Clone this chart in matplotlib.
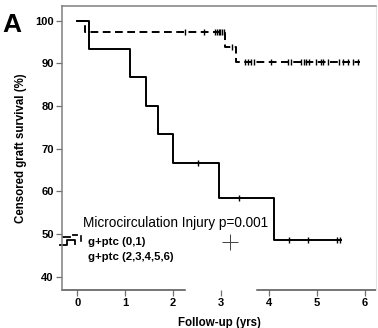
import numpy as np
import matplotlib
matplotlib.use('Agg')
import matplotlib.pyplot as plt

plt.rcParams['font.family'] = ['Liberation Sans', 'DejaVu Sans']

# group g+ptc (2,3,4,5,6) - solid
solid_t = [0, 0.25, 1.09, 1.43, 1.68, 1.99, 2.96, 4.10, 5.50]
solid_s = [100, 93.33, 86.67, 80.0, 73.33, 66.67, 58.33, 48.61, 48.61]
solid_cens = [2.51, 3.38, 4.41, 4.82, 5.41, 5.48]

# group g+ptc (0,1) - dashed
dash_t = [0, 0.17, 3.09, 3.32, 5.90]
dash_s = [100, 97.22, 93.9, 90.3, 90.3]
dash_cens = [2.25, 2.64, 2.87, 2.92, 2.95, 2.98, 3.01, 3.05, 3.23, 3.50, 3.56,
             3.62, 3.68, 4.03, 4.40, 4.45, 4.66, 4.72, 4.78, 4.83, 4.97, 5.08,
             5.12, 5.22, 5.45, 5.54, 5.64, 5.75, 5.85]

xticks = [0, 1, 2, 3, 4, 5, 6]
yticks = [40, 50, 60, 70, 80, 90, 100]
legend_title = 'Microcirculation Injury p=0.001'
labels = ['g+ptc (0,1)', 'g+ptc (2,3,4,5,6)']


def surv_at(times, surv, x):
    idx = np.searchsorted(times, x, side='right') - 1
    return np.array(surv)[idx]


fig = plt.figure(figsize=(3.78, 3.28), dpi=100)
ax = fig.add_axes([62 / 378, 38 / 328, 314 / 378, 284 / 328])

ax.step(dash_t, dash_s, where='post', color='black', lw=1.4, dashes=(4, 2.3))
ax.step(solid_t, solid_s, where='post', color='black', lw=1.4)
ax.plot(dash_cens, surv_at(dash_t, dash_s, dash_cens), ls='none', marker='|',
        color='black', ms=4.5, mew=1.0)
ax.plot(solid_cens, surv_at(solid_t, solid_s, solid_cens), ls='none', marker='|',
        color='black', ms=4.5, mew=1.0)

ax.set_xlim(-0.32, 6.23)
ax.set_ylim(36.9, 103.4)
ax.set_xticks(xticks)
ax.set_yticks(yticks)
ax.tick_params(direction='out', length=4, width=0.9, color='#707070',
               labelsize=8, pad=2)
for lab in ax.get_xticklabels() + ax.get_yticklabels():
    lab.set_fontweight('bold')

for side in ['left', 'top']:
    ax.spines[side].set_color('#808080')
    ax.spines[side].set_linewidth(1.1)
ax.spines['right'].set_color('#e4e4e4')
ax.spines['right'].set_linewidth(0.8)
ax.spines['bottom'].set_visible(False)
# bottom spine broken by the legend box
for a, b in [(0, 0.392), (0.621, 1)]:
    ax.plot([a, b], [0, 0], transform=ax.transAxes, color='#505050', lw=1.1,
            clip_on=False)

ax.set_xlabel('Follow-up (yrs)', fontsize=8.3, fontweight='bold', labelpad=6)
ax.set_ylabel('Censored graft survival (%)', fontsize=8.3, fontweight='bold',
              labelpad=6)

# legend drawn by hand (SPSS style)
ax.text(0.067, 0.237, legend_title, transform=ax.transAxes, fontsize=9.8,
        va='center', ha='left')
ax.text(0.082, 0.170, labels[0], transform=ax.transAxes, fontsize=8.2,
        fontweight='bold', va='center', ha='left')
ax.text(0.082, 0.115, labels[1], transform=ax.transAxes, fontsize=8.2,
        fontweight='bold', va='center', ha='left')
tr = ax.transAxes
ax.plot([0.003, 0.025], [0.185, 0.185], transform=tr, color='black', lw=1.3,
        clip_on=False)
ax.plot([0.035, 0.048], [0.195, 0.195], transform=tr, color='black', lw=1.3,
        clip_on=False)
ax.plot([0.060, 0.060], [0.172, 0.190], transform=tr, color='black', lw=1.2,
        clip_on=False)
ax.plot([-0.006, 0.016, 0.016, 0.040, 0.040], [0.158, 0.158, 0.176, 0.176, 0.162],
        transform=tr, color='black', lw=1.3, clip_on=False)
ax.plot([0.535], [0.17], transform=tr, marker='+', ms=11, mew=0.7,
        color='#404040', ls='none')

fig.text(0.005, 0.96, 'A', fontsize=19, fontweight='bold', va='top')

fig.savefig('out.png', dpi=100, facecolor='white')
